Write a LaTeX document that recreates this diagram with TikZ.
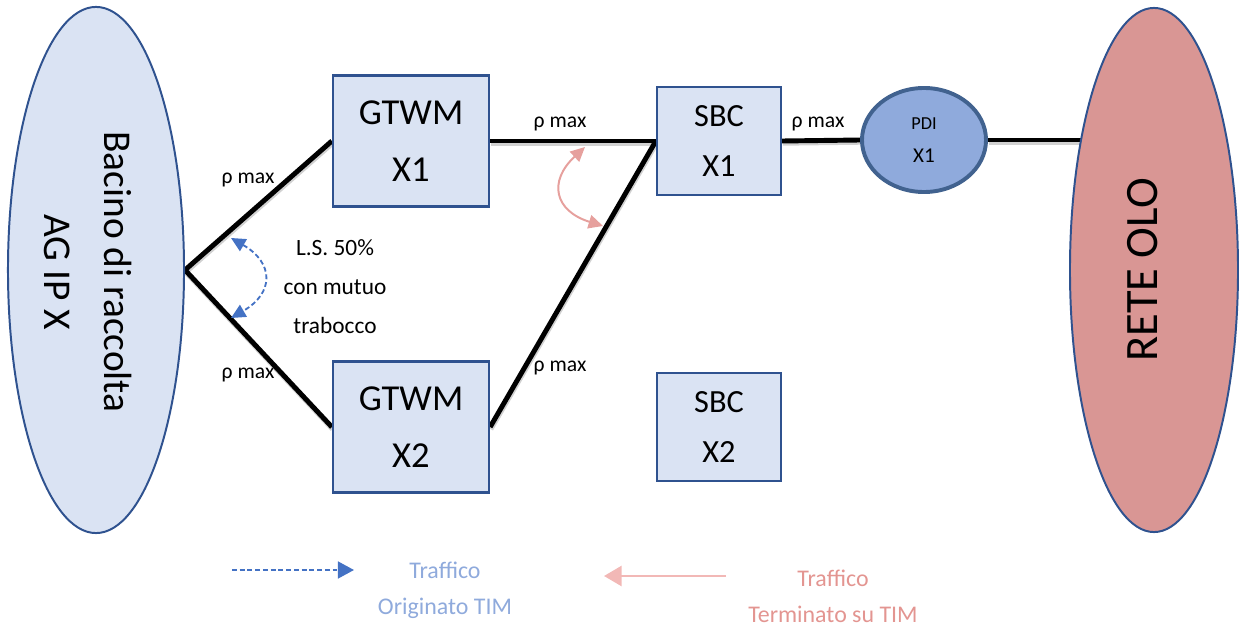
\documentclass[tikz,border=0pt]{standalone}
\usepackage{fontspec}
\setmainfont{Carlito}
\usetikzlibrary{shapes.geometric,arrows.meta,backgrounds}

\definecolor{boxfill}{HTML}{DAE3F3}
\definecolor{boxline}{HTML}{2F528F}
\definecolor{pdifill}{HTML}{8FAADC}
\definecolor{pdiline}{HTML}{41628F}
\definecolor{olofill}{HTML}{D99694}
\definecolor{origblue}{HTML}{4472C4}
\definecolor{origtext}{HTML}{8FAADC}
\definecolor{termpink}{HTML}{E6A09D}
\definecolor{termlight}{HTML}{F2B8B6}
\definecolor{termtext}{HTML}{E39591}

\tikzset{
  gtwmbox/.style={draw=boxline, fill=boxfill, line width=1.6pt, inner sep=0pt,
    minimum width=3.9cm, minimum height=3.275cm, align=center,
    font=\fontsize{26}{41}\selectfont},
  sbcbox/.style={draw=boxline, fill=boxfill, line width=1.6pt, inner sep=0pt,
    minimum width=3.1cm, minimum height=2.7cm, align=center,
    font=\fontsize{23}{36}\selectfont},
  bigoval/.style={ellipse, draw=boxline, line width=1.4pt, inner sep=0pt},
  link/.style={line width=3.5pt, black,
    preaction={draw=black!18, line width=3.5pt, transform canvas={shift={(0.5pt,-1.6pt)}}}},
  rholabel/.style={inner sep=0pt, font=\fontsize{15.4}{18}\selectfont},
  origarc/.style={origblue, line width=1.3pt, dash pattern=on 3.5pt off 2pt,
    {Triangle[length=3.6mm,width=3.4mm]}-{Triangle[length=3.6mm,width=3.4mm]}},
  termarc/.style={termpink, line width=1.4pt,
    {Triangle[length=3.6mm,width=3.4mm]}-{Triangle[length=3.6mm,width=3.4mm]}},
}

\begin{document}
\begin{tikzpicture}[x=0.025cm, y=-0.025cm]
\useasboundingbox (0,0) rectangle (1239,630);

% side networks
\node [bigoval, fill=boxfill, minimum width=4.4cm, minimum height=13.15cm] (bacino) at (96,270) {};
\node [rotate=-90, align=center, font=\fontsize{28}{43}\selectfont] (bacinotxt) at (88,272) {Bacino di raccolta\\AG IP X};
\node [bigoval, fill=olofill, minimum width=4.2cm, minimum height=13.1cm] (rete) at (1154,270) {};
\node [rotate=90, font=\fontsize{33}{38}\selectfont] (retetxt) at (1143,270) {RETE OLO};

% nodes
\node [gtwmbox] (gtwm1) at (411,141) {GTWM\\X1};
\node [gtwmbox] (gtwm2) at (411,427) {GTWM\\X2};
\node [sbcbox] (sbc1) at (719,141) {SBC\\X1};
\node [sbcbox] (sbc2) at (719,427) {SBC\\X2};
\node [ellipse, draw=pdiline, fill=pdifill, line width=2.8pt, inner sep=0pt,
  minimum width=3.1cm, minimum height=2.6cm, align=center] (pdi) at (924,140)
  {\fontsize{13}{16}\selectfont PDI\\[11pt]\fontsize{15}{18}\selectfont X1};

% links
\begin{scope}[on background layer]
\draw [link] (bacino.east) -- (gtwm1.west);
\draw [link] (bacino.east) -- (gtwm2.west);
\draw [link] (gtwm1.east) -- (sbc1.west);
\draw [link] (gtwm2.east) -- (sbc1.west);
\draw [link] (sbc1.east) -- (pdi.west);
\draw [link] (pdi.east) -- (pdi.east -| rete.center);
\end{scope}

\node [rholabel] (rho1) at (248,180) {ρ max};
\node [rholabel] (rho2) at (248,375) {ρ max};
\node [rholabel] (rho3) at (560,124) {ρ max};
\node [rholabel] (rho4) at (818,124) {ρ max};
\node [rholabel] (rho5) at (560,368) {ρ max};

% load sharing
\coordinate (lstop) at (231,238);
\coordinate (lsbot) at (231,318);
\draw [origarc] (lstop) to[bend left=60, looseness=1.6] (lsbot);
\node [align=center, font=\fontsize{16.6}{27.7}\selectfont] (lstxt) at (335,287) {L.S. 50\%\\con mutuo\\trabocco};

\coordinate (trtop) at (585,147);
\coordinate (trbot) at (603,226);
\draw [termarc] (trtop) to[bend right=60, looseness=1.6] (trbot);

% legend
\coordinate (origA) at (232,570);
\coordinate (origB) at (354,570);
\draw [origblue, line width=1.4pt, dash pattern=on 3.5pt off 2pt,
  -{Triangle[length=4mm,width=4.2mm]}] (origA) -- (origB);
\node [align=center, text=origtext, font=\fontsize{17}{25.6}\selectfont] (origtxt) at (445,590) {Traffico\\Originato TIM};
\coordinate (termA) at (726,576);
\coordinate (termB) at (604,576);
\draw [termlight, line width=1.8pt, -{Triangle[length=4.4mm,width=5mm]}] (termA) -- (termB);
\node [align=center, text=termtext, font=\fontsize{17}{25.6}\selectfont] (termtxt) at (833,596) {Traffico\\Terminato su TIM};
\end{tikzpicture}
\end{document}
